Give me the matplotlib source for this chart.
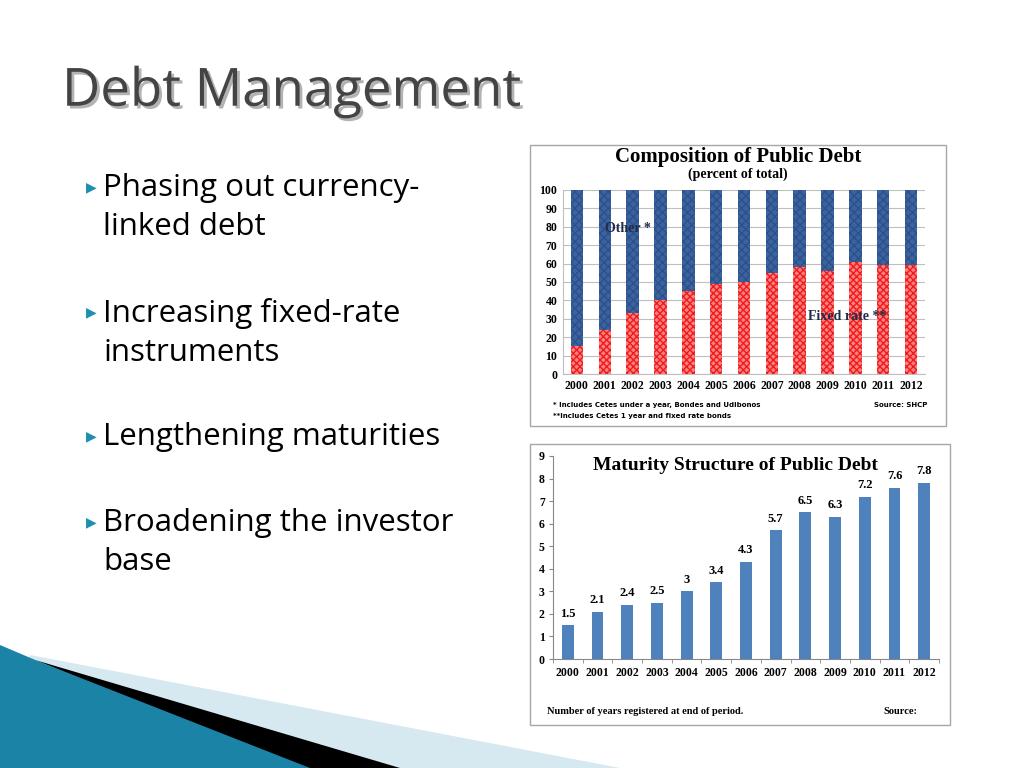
import matplotlib.pyplot as plt
import matplotlib.patheffects as pe
from matplotlib.patches import Polygon, Rectangle

years = ['2000', '2001', '2002', '2003', '2004', '2005', '2006',
         '2007', '2008', '2009', '2010', '2011', '2012']
fixed_rate = [15, 24, 33, 40, 45, 49, 50, 55, 58, 56, 61, 59, 59]
other = [100 - v for v in fixed_rate]
maturity = [1.5, 2.1, 2.4, 2.5, 3, 3.4, 4.3, 5.7, 6.5, 6.3, 7.2, 7.6, 7.8]
maturity_labels = ['1.5', '2.1', '2.4', '2.5', '3', '3.4', '4.3',
                   '5.7', '6.5', '6.3', '7.2', '7.6', '7.8']
bullets = ['Phasing out currency-\nlinked debt',
           'Increasing fixed-rate\ninstruments',
           'Lengthening maturities',
           'Broadening the investor\nbase']

W, H = 1024, 768
serif = 'Liberation Serif'


def px(x, y):
    """ пиксели -> координаты фигуры """
    return x / W, 1 - y / H


def box(x0, y0, x1, y1):
    """ прямоугольник в пикселях -> [left, bottom, width, height] """
    return [x0 / W, 1 - y1 / H, (x1 - x0) / W, (y1 - y0) / H]


def bold_ticks(ax, size):
    for lab in ax.get_xticklabels() + ax.get_yticklabels():
        lab.set_fontfamily(serif)
        lab.set_fontweight('bold')
        lab.set_fontsize(size)


fig = plt.figure(figsize=(10.24, 7.68), dpi=100)
fig.patch.set_facecolor('white')

# swoosh at bottom left
shapes = [
    ([(30, 655), (620, 768), (0, 768)], '#d6e8f0'),
    ([(35, 660), (400, 768), (300, 768)], 'black'),
    ([(0, 645), (40, 662), (310, 768), (0, 768)], '#1b84a6'),
]
for pts, col in shapes:
    fig.patches.append(Polygon([px(*p) for p in pts], closed=True,
                               transform=fig.transFigure, facecolor=col,
                               edgecolor='none', zorder=0))

# title with shadow
fig.text(*px(62, 92), 'Debt Management', fontsize=38, color='#444444',
         va='center', family='Open Sans',
         path_effects=[pe.withSimplePatchShadow(offset=(2, -2),
                                                shadow_rgbFace='#a0a0a0',
                                                alpha=0.8)])

# bullets
bullet_y = [187, 312, 436, 522]
for text, y in zip(bullets, bullet_y):
    fig.text(*px(86, y), '\u25B6', fontsize=10, color='#1d8fb0',
             va='center', family='DejaVu Sans')
    fig.text(*px(103, y - 14), text, fontsize=22.5, color='black', va='top',
             family='Open Sans', linespacing=1.4)

# chart frames
for b in [box(530, 145, 946, 426), box(530, 444, 950, 725)]:
    fig.patches.append(Rectangle((b[0], b[1]), b[2], b[3],
                                 transform=fig.transFigure, facecolor='white',
                                 edgecolor='#a6a6a6', linewidth=1, zorder=1))

# composition of public debt
ax1 = fig.add_axes(box(563, 190, 925, 374))
ax1.set_zorder(2)
ax1.patch.set_alpha(0)
x = range(len(years))
ax1.bar(x, fixed_rate, width=0.45, color='#ff8080', edgecolor='#ee1c1c',
        hatch='xxxxx', linewidth=0, zorder=3)
ax1.bar(x, other, width=0.45, bottom=fixed_rate, color='#3a64a0',
        edgecolor='#2e5088', hatch='xxxx', linewidth=0, zorder=3)
ax1.set_xlim(-0.5, len(years) - 0.5)
ax1.set_ylim(0, 100)
ax1.set_yticks(range(0, 101, 10))
ax1.set_xticks(list(x))
ax1.set_xticklabels(years)
ax1.yaxis.grid(True, color='#bfbfbf', linewidth=0.8, zorder=0)
ax1.set_axisbelow(True)
for s in ['top', 'right']:
    ax1.spines[s].set_visible(False)
ax1.spines['left'].set_color('#bfbfbf')
ax1.spines['bottom'].set_color('#bfbfbf')
ax1.tick_params(length=0, pad=4)
bold_ticks(ax1, 8.5)
ax1.text(1.0, 79, 'Other *', fontsize=10, fontweight='bold', family=serif,
         color='#1f2d4a', va='center', zorder=5)
ax1.text(8.3, 31.5, 'Fixed rate **', fontsize=10, fontweight='bold',
         family=serif, color='#1f2d4a', va='center', zorder=5)

fig.text(*px(738, 157), 'Composition of Public Debt', fontsize=15,
         fontweight='bold', family=serif, ha='center', va='center')
fig.text(*px(738, 174), '(percent of total)', fontsize=10,
         fontweight='bold', family=serif, ha='center', va='center')
fig.text(*px(553, 405), '* Includes Cetes under a year, Bondes and Udibonos',
         fontsize=5, fontweight='bold', family='DejaVu Sans', va='center')
fig.text(*px(553, 416), '**Includes Cetes 1 year and fixed rate bonds',
         fontsize=5, fontweight='bold', family='DejaVu Sans', va='center')
fig.text(*px(927, 405), 'Source: SHCP', fontsize=5, fontweight='bold',
         family='DejaVu Sans', va='center', ha='right')

# maturity structure
ax2 = fig.add_axes(box(553, 456, 939, 659))
ax2.set_zorder(2)
ax2.patch.set_alpha(0)
bars = ax2.bar(x, maturity, width=0.4, color='#4f81bd', zorder=3)
for rect, lab in zip(bars, maturity_labels):
    ax2.text(rect.get_x() + rect.get_width() / 2, rect.get_height() + 0.25,
             lab, ha='center', va='bottom', fontsize=9, fontweight='bold',
             family=serif)
ax2.set_xlim(-0.5, len(years) - 0.5)
ax2.set_ylim(0, 9)
ax2.set_yticks(range(0, 10))
ax2.set_xticks(list(x))
ax2.set_xticklabels(years)
ax2.set_xticks([i - 0.5 for i in range(len(years) + 1)], minor=True)
ax2.tick_params(axis='x', which='major', length=0, pad=6)
ax2.tick_params(axis='x', which='minor', length=3, color='#888888')
ax2.tick_params(axis='y', length=3, color='#888888', pad=3)
for s in ['top', 'right']:
    ax2.spines[s].set_visible(False)
ax2.spines['left'].set_color('#888888')
ax2.spines['bottom'].set_color('#888888')
bold_ticks(ax2, 8.5)

fig.text(*px(735, 466), 'Maturity Structure of Public Debt', fontsize=14,
         fontweight='bold', family=serif, ha='center', va='center', zorder=4)
fig.text(*px(547, 712), 'Number of years registered at end of period.',
         fontsize=7.5, fontweight='bold', family=serif, va='center')
fig.text(*px(883, 712), 'Source:', fontsize=7.5, fontweight='bold',
         family=serif, va='center')

fig.savefig('out.png', dpi=100, facecolor=fig.get_facecolor())
